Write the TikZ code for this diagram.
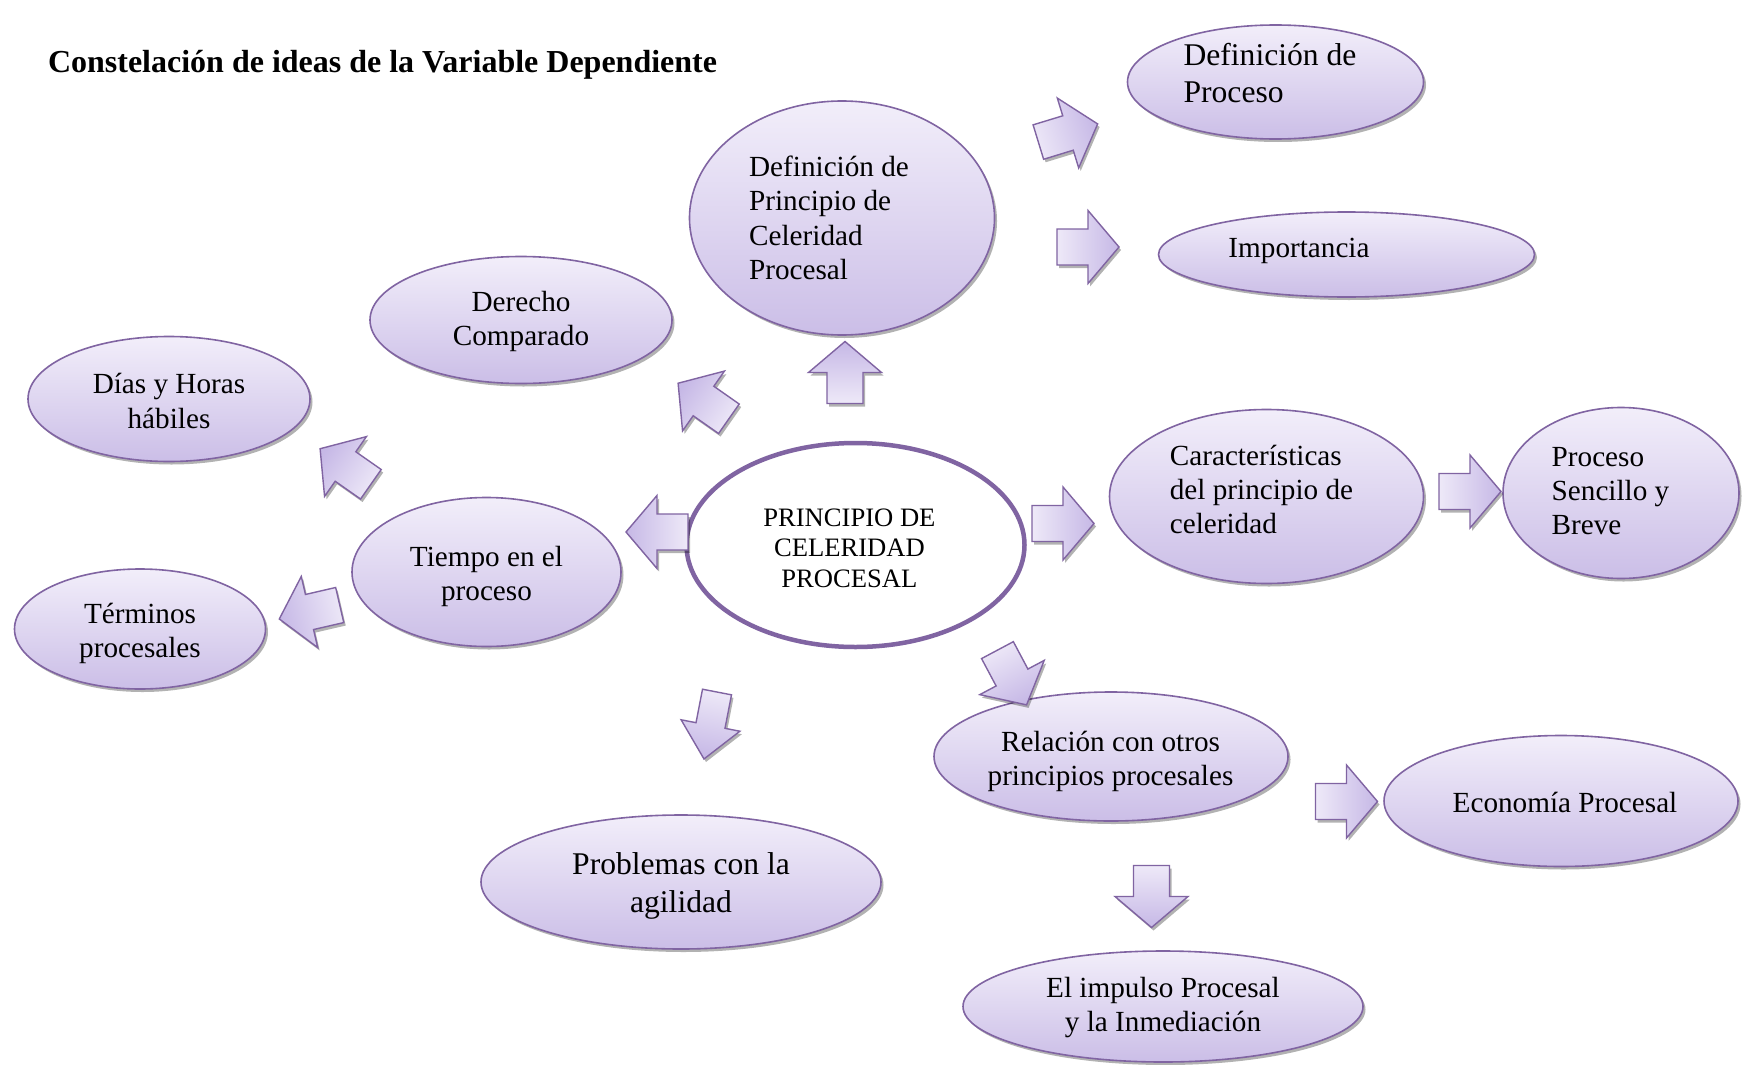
\documentclass[tikz,border=0pt]{standalone}
\usepackage{fontspec}
\setmainfont{Liberation Serif}
\usetikzlibrary{shapes.geometric,shadows}
\definecolor{bord}{RGB}{128,100,162}
\definecolor{ftop}{RGB}{242,238,250}
\definecolor{fbot}{RGB}{203,190,231}
\definecolor{atip}{RGB}{198,184,230}
\definecolor{atail}{RGB}{238,233,248}
\tikzset{
  bubble/.style={ellipse, draw=bord, line width=1.6pt, top color=ftop, bottom color=fbot, inner sep=0pt,
    drop shadow={shadow xshift=2.5pt, shadow yshift=-3pt, fill=black, opacity=0.3}},
  hub/.style={ellipse, draw=bord, line width=4.5pt, fill=white, inner sep=0pt},
  txt/.style={font=\fontsize{29.2}{34.4}\selectfont, inner sep=0pt, align=center},
  txtl/.style={txt, align=left},
  big/.style={font=\fontsize{31.6}{37.8}\selectfont},
  arrowsty/.style={draw=bord, line width=1.4pt, line join=miter,
    drop shadow={shadow xshift=2pt, shadow yshift=-3pt, fill=black, opacity=0.3}}
}
\newcommand\blockarrow[6][]{%
  \begin{scope}[shift={(#3,#4)}, rotate=#5, #1]
    \coordinate (#2) at (0,0);
    \path[arrowsty, left color=atail, right color=atip, shading angle=#6]
      (-31,-18) -- (0,-18) -- (0,-36.5) -- (31,0) -- (0,36.5) -- (0,18) -- (-31,18) -- cycle;
  \end{scope}}
\begin{document}
\begin{tikzpicture}[x=1pt, y=-1pt]
\useasboundingbox (0,0) rectangle (1742,1065);
\fill[white] (0,0) rectangle (1742,1065);

% title
\node[anchor=west, inner sep=0pt, font=\fontsize{32}{38}\selectfont\bfseries] (title) at (47.8,64.5) {Constelación de ideas de la Variable Dependiente};

% ellipses
\node[bubble, minimum width=296pt, minimum height=114pt] (defproc) at (1275.5,82) {};
\node[bubble, minimum width=376pt, minimum height=85pt] (imp) at (1346.5,254.5) {};
\node[bubble, minimum width=305pt, minimum height=234pt] (defprin) at (842,218) {};
\node[bubble, minimum width=302pt, minimum height=127pt] (derecho) at (521,320) {};
\node[bubble, minimum width=282pt, minimum height=125pt] (dias) at (169,399) {};
\node[bubble, minimum width=269pt, minimum height=149pt] (tiempo) at (486.5,572) {};
\node[bubble, minimum width=251pt, minimum height=120pt] (terminos) at (140,629) {};
\node[hub, minimum width=338pt, minimum height=204pt] (hub) at (855.5,545) {};
\node[bubble, minimum width=314pt, minimum height=174pt] (caract) at (1266.5,496.5) {};
\node[bubble, minimum width=236pt, minimum height=171pt] (sencillo) at (1621,493) {};
\node[bubble, minimum width=354pt, minimum height=129pt] (relacion) at (1111,756.5) {};
\node[bubble, minimum width=354pt, minimum height=131pt] (economia) at (1561,801) {};
\node[bubble, minimum width=400pt, minimum height=134pt] (problemas) at (681,882) {};
\node[bubble, minimum width=400pt, minimum height=111pt] (impulso) at (1163,1006.5) {};

% texts
\node[txtl, big] (defproct) at (1270,73) {Definición de\\Proceso};
\node[txt] (impt) at (1299,251.3) {Importancia};
\node[txtl] (defprint) at (829,218) {Definición de\\Principio de\\Celeridad\\Procesal};
\node[txt] (derechot) at (521,321.3) {Derecho\\Comparado};
\node[txt] (diast) at (169,401) {Días y Horas\\hábiles};
\node[txt] (tiempot) at (486.5,576.3) {Tiempo en el\\proceso};
\node[txt] (terminost) at (140,633.3) {Términos\\procesales};
\node[txt, font=\fontsize{26.6}{30.5}\selectfont] (hubt) at (849.4,548) {PRINCIPIO DE\\CELERIDAD\\PROCESAL};
\node[txtl] (caractt) at (1261.5,489.4) {Características\\del principio de\\celeridad};
\node[txtl] (sencillot) at (1610.5,491) {Proceso\\Sencillo y\\Breve};
\node[txt] (relaciont) at (1110.5,761.3) {Relación con otros\\principios procesales};
\node[txt] (economiat) at (1565,802) {Economía Procesal};
\node[txt, big] (problemast) at (681,886.3) {Problemas con la\\agilidad};
\node[txt] (impulsot) at (1163,1007.3) {El impulso Procesal\\y la Inmediación};

% block arrows
\blockarrow{arrA}{845}{372.5}{90}{180}
\blockarrow{arrB}{703.5}{401}{145}{235}
\blockarrow{arrC}{345.5}{466.5}{145}{235}
\blockarrow{arrD}{657}{532}{180}{270}
\blockarrow{arrE}{309.5}{612}{193}{283}
\blockarrow[xscale=1.1, yscale=0.82]{arrF}{710.5}{725.5}{259}{349}
\blockarrow{arrG}{1012}{677.5}{-62}{28}
\blockarrow{arrH}{1063}{523.5}{0}{90}
\blockarrow{arrI}{1470}{491.5}{0}{90}
\blockarrow{arrJ}{1346.5}{801.5}{0}{90}
\blockarrow{arrK}{1151.5}{896.5}{-90}{0}
\blockarrow{arrL}{1088}{247}{0}{90}
\blockarrow{arrM}{1068}{133}{17}{107}
\end{tikzpicture}
\end{document}
